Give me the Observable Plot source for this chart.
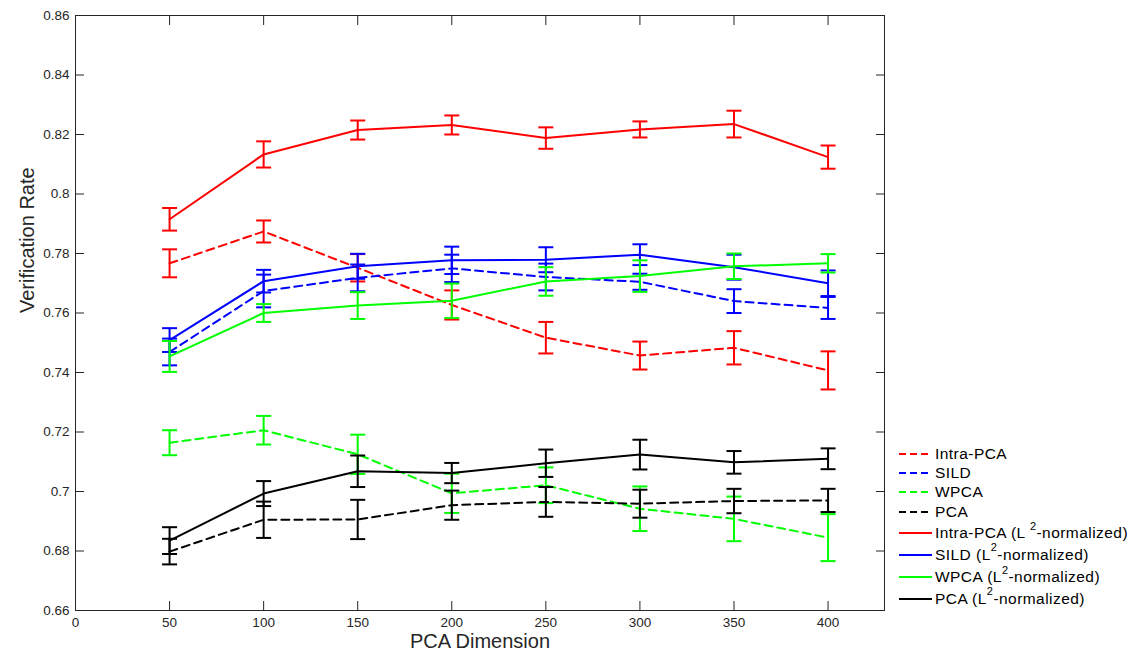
<!DOCTYPE html>
<html><head><meta charset="utf-8">
<script src="https://cdn.jsdelivr.net/npm/d3@7"></script>
<script src="https://cdn.jsdelivr.net/npm/@observablehq/plot@0.6"></script>
<style>
body{margin:0;background:#fff;font-family:"Liberation Sans",Arial,sans-serif;}
#wrap{position:relative;width:1137px;height:659px;}
#legend{position:absolute;left:898px;top:0;font-size:15.5px;letter-spacing:0.45px;color:#000;}
.row{position:absolute;left:0;display:flex;align-items:center;height:20px;white-space:nowrap;}
.row svg{margin-right:2px;}
sup{font-size:11px;position:relative;top:-2px;line-height:0;}
</style></head>
<body><div id="wrap"><div id="legend"></div></div>
<script>
const dims = [50, 100, 150, 200, 250, 300, 350, 400];
const seriesNames = ["Intra-PCA", "SILD", "WPCA", "PCA", "Intra-PCA (L2)", "SILD (L2)", "WPCA (L2)", "PCA (L2)"];
const seriesColors = ["#ff0000", "#0000ff", "#00ff00", "#000000", "#ff0000", "#0000ff", "#00ff00", "#000000"];
const seriesDashed = [true, true, true, true, false, false, false, false];

const intraPCA     = [0.7767, 0.7874, 0.7752, 0.7627, 0.7517, 0.7457, 0.7483, 0.7407];
const intraPCAErr  = [0.0047, 0.0037, 0.0046, 0.0049, 0.0053, 0.0047, 0.0056, 0.0064];
const sild         = [0.7469, 0.7674, 0.7718, 0.7750, 0.7721, 0.7705, 0.7640, 0.7617];
const sildErr      = [0.0045, 0.0055, 0.0045, 0.0046, 0.0045, 0.0027, 0.0040, 0.0037];
const wpca         = [0.7164, 0.7206, 0.7125, 0.6994, 0.7021, 0.6942, 0.6908, 0.6845];
const wpcaErr      = [0.0042, 0.0048, 0.0066, 0.0066, 0.0060, 0.0075, 0.0075, 0.0079];
const pca          = [0.6798, 0.6905, 0.6906, 0.6954, 0.6965, 0.6959, 0.6968, 0.6970];
const pcaErr       = [0.0043, 0.0061, 0.0066, 0.0049, 0.0050, 0.0047, 0.0041, 0.0039];
const intraPCAL2   = [0.7915, 0.8133, 0.8215, 0.8232, 0.8188, 0.8217, 0.8235, 0.8124];
const intraPCAL2Err= [0.0038, 0.0044, 0.0032, 0.0032, 0.0036, 0.0027, 0.0045, 0.0039];
const sildL2       = [0.7509, 0.7707, 0.7757, 0.7777, 0.7779, 0.7796, 0.7754, 0.7700];
const sildL2Err    = [0.0040, 0.0038, 0.0042, 0.0046, 0.0042, 0.0035, 0.0042, 0.0043];
const wpcaL2       = [0.7454, 0.7600, 0.7625, 0.7641, 0.7706, 0.7724, 0.7757, 0.7767];
const wpcaL2Err    = [0.0052, 0.0030, 0.0045, 0.0058, 0.0048, 0.0053, 0.0043, 0.0031];
const pcaL2        = [0.6835, 0.6993, 0.7068, 0.7062, 0.7095, 0.7124, 0.7098, 0.7110];
const pcaL2Err     = [0.0045, 0.0042, 0.0053, 0.0034, 0.0046, 0.0050, 0.0038, 0.0035];

const means = [intraPCA, sild, wpca, pca, intraPCAL2, sildL2, wpcaL2, pcaL2];
const errs = [intraPCAErr, sildErr, wpcaErr, pcaErr, intraPCAL2Err, sildL2Err, wpcaL2Err, pcaL2Err];

const xTicks = [0, 50, 100, 150, 200, 250, 300, 350, 400];
const yTicks = [0.66, 0.68, 0.70, 0.72, 0.74, 0.76, 0.78, 0.80, 0.82, 0.84, 0.86];

const legendLabels = [
  "Intra-PCA", "SILD", "WPCA", "PCA",
  "Intra-PCA (L <sup>2</sup>-normalized)", "SILD (L<sup>2</sup>-normalized)",
  "WPCA (L<sup>2</sup>-normalized)", "PCA (L<sup>2</sup>-normalized)"
];

const rows = means.flatMap((m, s) => dims.map((d, i) => ({
  series: seriesNames[s], s, dim: d, v: m[i], lo: m[i] - errs[s][i], hi: m[i] + errs[s][i]
})));

const cap = {draw(ctx, size) { const w = Math.sqrt(size / Math.PI); ctx.moveTo(-w, 0); ctx.lineTo(w, 0); }};

const marks = [];
seriesNames.forEach((name, s) => {
  const data = rows.filter(r => r.s === s);
  const col = seriesColors[s];
  marks.push(Plot.ruleX(data, {x: "dim", y1: "lo", y2: "hi", stroke: col, strokeWidth: 2}));
  marks.push(Plot.dot(data, {x: "dim", y: "lo", symbol: cap, r: 7.5, stroke: col, strokeWidth: 2, fill: "none"}));
  marks.push(Plot.dot(data, {x: "dim", y: "hi", symbol: cap, r: 7.5, stroke: col, strokeWidth: 2, fill: "none"}));
  marks.push(Plot.line(data, {x: "dim", y: "v", stroke: col, strokeWidth: 2,
    strokeDasharray: seriesDashed[s] ? "8,5" : null}));
});

const chart = Plot.plot({
  width: 1137, height: 659,
  marginLeft: 75, marginRight: 253, marginTop: 15, marginBottom: 49,
  style: {fontFamily: '"Liberation Sans", Arial, sans-serif', background: "#fff"},
  x: {domain: [0, 430]},
  y: {domain: [0.66, 0.86]},
  marks: [
    Plot.axisX({ticks: xTicks, tickSize: -9, tickPadding: 16, fontSize: 13.5, color: "#262626", label: null, tickFormat: d => String(d)}),
    Plot.axisX({anchor: "top", ticks: xTicks, tickSize: -9, tickFormat: () => "", label: null, color: "#262626"}),
    Plot.axisY({ticks: yTicks, tickSize: -9, tickPadding: 15, fontSize: 13.5, color: "#262626", label: null, tickFormat: d => String(+d.toFixed(2))}),
    Plot.axisY({anchor: "right", ticks: yTicks, tickSize: -9, tickFormat: () => "", label: null, color: "#262626"}),
    ...marks,
    Plot.frame({stroke: "#262626"}),
    Plot.text(["Verification Rate"], {frameAnchor: "left", rotate: -90, dx: -48, fontSize: 20, fill: "#262626"}),
    Plot.text(["PCA Dimension"], {frameAnchor: "bottom", dy: 37, fontSize: 20, fill: "#262626"})
  ]
});
document.getElementById("wrap").prepend(chart);

const legendRowCenters = [454, 472.5, 492, 511.5, 533, 554.5, 577, 598.5];
const leg = document.getElementById("legend");
legendLabels.forEach((lab, s) => {
  const row = document.createElement("div");
  row.className = "row";
  row.style.top = (legendRowCenters[s] - 10) + "px";
  row.innerHTML = `<svg width="35" height="10"><line x1="1" x2="34" y1="5" y2="5" stroke="${seriesColors[s]}" stroke-width="2" ${seriesDashed[s] ? 'stroke-dasharray="7,4"' : ''}/></svg><span>${lab}</span>`;
  leg.appendChild(row);
});
</script></body></html>
